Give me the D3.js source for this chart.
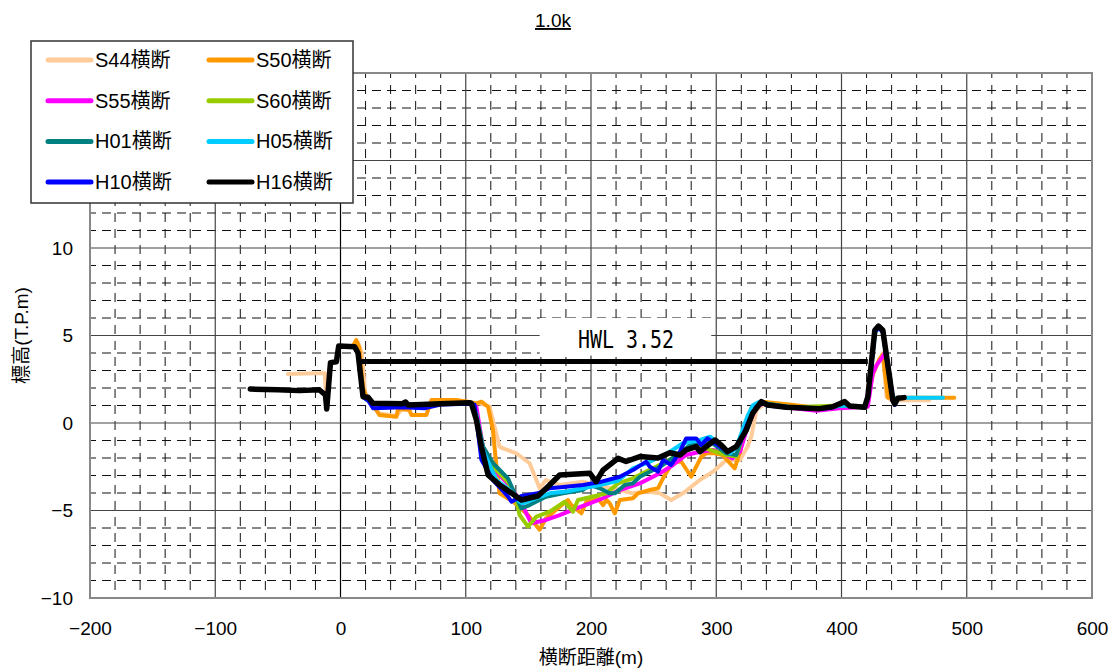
<!DOCTYPE html>
<html>
<head>
<meta charset="utf-8">
<script src="https://cdn.jsdelivr.net/npm/d3@7"></script>
<style>
  body { margin: 0; background: #fff; }
  text { font-family: "Liberation Sans", "Noto Sans CJK JP", sans-serif; fill: #000; }
</style>
</head>
<body>
<div id="chart"></div>
<script>
// cross-section profiles, [distance (m), elevation (T.P.m)]
let s44 = [[-42,2.8],[-12.6,2.85],[-11.8,1.9],[-8,3.45],[-3.3,3.5],[-1.4,4.4],[11,4.4],[14,4.6],[17,4.0],[20,1.5],[25,1.0],[31,0.55],[44.6,0.4],[50,0.9],[80,1.1],[104,1.12],[111,1.12],[119,0.93],[127,-1.35],[129.7,-1.45],[140.4,-1.73],[151,-2.3],[159,-3.73],[164,-3.26],[175,-3.54],[193.6,-3.35],[199,-3.45],[223,-3.83],[233.5,-4.02],[244,-3.92],[255,-4.02],[264,-4.4],[273.4,-4.02],[286.8,-3.26],[297.4,-2.78],[308,-2.11],[319,-2.11],[325,-1.35],[328,-0.78],[332,0.74],[337,1.0],[341,1.1],[360,1.0],[383,0.85],[400,0.9],[420,0.9],[425,2.8],[430,3.6],[433,4.0],[436,1.5],[440,1.3],[470,1.3]];
let s50 = [[-1.4,4.4],[10,4.4],[12.6,4.74],[15,4.3],[18,2.0],[22,1.3],[28.6,0.74],[31,0.46],[44.6,0.36],[46,0.8],[55,0.74],[56.6,0.46],[68.6,0.46],[72.6,1.31],[92.5,1.31],[103,1.2],[108.5,1.12],[112.5,1.22],[117.8,0.93],[121.7,-0.4],[124.5,-2.5],[127,-4.02],[138,-4.5],[149.7,-5.26],[159,-6.1],[164,-5.45],[175,-4.78],[181.6,-4.4],[184.3,-4.69],[192.3,-5.16],[196.3,-4.5],[205.6,-4.3],[209.6,-4.69],[212.3,-4.4],[215,-4.59],[219,-5.16],[223,-4.4],[233.5,-4.3],[237.5,-4.02],[247,-3.83],[253.5,-3.73],[257.5,-3.16],[265.5,-2.21],[272,-2.2],[280,-3.07],[288,-1.93],[292,-1.73],[298.7,-1.73],[305,-1.83],[314.7,-2.59],[319,-1.64],[324,-0.02],[328,0.84],[337,1.22],[360,1.05],[383,0.85],[400,0.95],[420,0.95],[425,2.8],[430,3.6],[433,3.9],[437,1.45],[490,1.45]];
let s55 = [[0,4.35],[11,4.35],[14,4.0],[18,1.5],[25,1.1],[50,1.05],[80,1.1],[104,1.1],[108.5,0.93],[113.8,-1.4],[122,-2.6],[134,-3.5],[143,-4.4],[148.4,-5.16],[152.4,-5.73],[164,-5.54],[175,-5.26],[188.3,-4.88],[199,-4.59],[209.6,-4.3],[223,-3.83],[239,-3.45],[255,-2.87],[265.5,-2.4],[276,-1.83],[287,-1.64],[297.4,-1.54],[305,-1.73],[313,-2.02],[319,-1.64],[325,-0.2],[332,0.9],[337,1.1],[360,0.85],[380,0.7],[398.5,0.84],[421,0.93],[425,2.84],[428,3.31],[432,3.7],[434.5,3.98],[437,3.5],[441,1.4]];
let s60 = [[0,4.35],[11,4.35],[14,4.0],[18,1.5],[25,1.1],[50,1.05],[80,1.1],[104,1.1],[108,0.6],[113.8,-1.4],[122,-2.5],[134,-3.4],[140.4,-4.4],[143,-5.26],[149.7,-5.92],[156.4,-5.35],[167,-5.07],[179,-4.5],[185.6,-5.07],[189.6,-4.4],[201.6,-4.2],[212.3,-4.02],[221.6,-3.45],[233.5,-3.16],[244,-2.78],[260,-2.21],[276,-1.54],[287,-1.35],[308,-1.83],[316,-1.92],[324,-0.1],[330,0.9],[337,1.15],[360,0.9],[400,1.0],[418,0.9]];
let h01 = [[0,4.35],[11,4.35],[14,4.0],[18,1.5],[25,1.1],[50,1.05],[80,1.1],[104,1.1],[108,0.6],[113.8,-1.35],[121.8,-2.3],[133.7,-3.16],[139,-4.02],[144.4,-4.88],[151,-4.69],[164,-4.21],[177.6,-4.02],[193.6,-3.83],[199,-3.54],[207,-3.73],[215,-4.02],[219,-4.02],[227,-3.54],[233.5,-3.45],[239,-3.07],[255,-2.5],[271,-1.73],[279,-1.26],[289.4,-1.16],[295,-1.07],[308,-1.73],[316,-1.83],[324,0],[330,0.9],[337,1.15],[360,0.9],[383,0.82],[400,1.0],[418,0.9]];
let h05 = [[0,4.35],[11,4.35],[14,4.0],[18,1.5],[25,1.1],[50,1.05],[80,1.1],[104,1.1],[108,0.6],[113.8,-1.54],[124.5,-3.26],[135,-3.83],[143,-4.5],[145.6,-4.59],[156.4,-4.3],[167,-4.02],[180,-3.92],[193.6,-3.73],[207,-3.55],[221.6,-3.3],[233.5,-2.59],[247,-2.21],[263,-1.64],[273.4,-1.16],[287,-0.97],[295,-0.78],[303,-1.26],[311,-1.73],[316,-1.4],[320,-0.6],[325,0.4],[329,1.0],[334,1.2],[341,1.05],[360,0.9],[383,0.82],[400,1.0],[418,0.92],[421,1.5],[427,5.2],[430,5.45],[433,5.2],[441,1.4],[445,1.45],[481,1.45]];
let h10 = [[-72,1.94],[-33,1.85],[-17,1.9],[-12,1.6],[-11,0.8],[-8,3.45],[-3.3,3.5],[-1.4,4.4],[11.3,4.36],[14,4.0],[18,1.5],[22,1.3],[26,0.84],[50,0.9],[67,0.84],[80,1.05],[103,1.1],[107,1.05],[112.5,-2.1],[121.8,-3.26],[133.7,-4.2],[136.5,-4.5],[144.4,-4.17],[157.7,-4.02],[167,-3.73],[180,-3.64],[193.6,-3.54],[207,-3.38],[223,-3.07],[233.5,-2.69],[244,-2.21],[247,-2.5],[253.5,-2.78],[257.5,-2.11],[264,-2.4],[271,-1.64],[276,-0.88],[284,-0.88],[288,-1.26],[293,-0.88],[299,-1.16],[309,-1.64],[319,-1.16],[325,-0.02],[332,0.93],[337,1.13],[341,1.0],[356,0.88],[383,0.8],[393,0.9],[402.5,1.18],[406.6,0.95],[418.5,0.88],[421,1.5],[426.6,5.2],[429.5,5.45],[433,5.2],[441,1.25],[442.5,1.03]];
let h16 = [[-72,1.94],[-50,1.9],[-33,1.85],[-17,1.9],[-12,1.6],[-11,0.8],[-8,3.45],[-3.3,3.5],[-1.4,4.4],[11.3,4.36],[14,4.0],[18,1.5],[22,1.47],[25.8,1.13],[49.6,1.1],[52,1.2],[54,1.03],[80,1.1],[103,1.16],[104.5,1.12],[108.5,0.17],[112.5,-1.35],[117.8,-2.97],[127,-3.54],[140.4,-4.2],[144.4,-4.4],[157.7,-4.17],[167,-3.54],[175,-2.97],[199,-2.87],[204,-3.35],[209.6,-2.69],[221.6,-2.02],[228,-2.2],[239,-1.92],[253.5,-2.0],[263,-1.7],[271,-1.83],[276,-1.54],[284,-1.35],[287,-1.64],[292,-1.35],[299,-0.97],[304,-1.26],[309,-1.64],[316,-1.35],[324,-0.4],[329,0.55],[336,1.22],[341,1.03],[356,0.9],[382.6,0.82],[393,0.93],[402.5,1.22],[406.6,0.97],[418.5,0.9],[421,1.5],[426.6,5.3],[429.5,5.54],[433,5.3],[441,1.3],[442.5,1.09],[445,1.41],[450,1.45]];
let hwl = [[15,3.52],[421,3.52]];

let seriesNames = ['S44横断', 'S50横断', 'S55横断', 'S60横断', 'H01横断', 'H05横断', 'H10横断', 'H16横断'];
let seriesData = [s44, s50, s55, s60, h01, h05, h10, h16];
let seriesColors = ['#FFCC99', '#FF9900', '#FF00FF', '#99CC00', '#008080', '#00CCFF', '#0000FF', '#000000'];

let xTicks = [-200, -100, 0, 100, 200, 300, 400, 500, 600];
let yTicks = [-10, -5, 0, 5, 10, 15, 20];

// layout
let width = 1116, height = 669;
let margin = {top: 73, right: 24, bottom: 71, left: 90};
let plotW = width - margin.left - margin.right,
    plotH = height - margin.top - margin.bottom;

let x = d3.scaleLinear().domain([-200, 600]).range([0, plotW]);
let y = d3.scaleLinear().domain([-10, 20]).range([plotH, 0]);

let svg = d3.select('#chart').append('svg')
  .attr('width', width)
  .attr('height', height);

let g = svg.append('g')
  .attr('transform', `translate(${margin.left}, ${margin.top})`);

// minor grid (dashed)
g.append('g')
  .selectAll('line')
  .data(d3.range(-180, 600, 20).filter(d => d % 100 !== 0))
  .enter().append('line')
    .attr('x1', d => x(d)).attr('x2', d => x(d))
    .attr('y1', 0).attr('y2', plotH)
    .attr('stroke', '#111')
    .attr('stroke-dasharray', '9,7')
    .attr('stroke-dashoffset', 4);

g.append('g')
  .selectAll('line')
  .data(d3.range(-9, 20, 1).filter(d => d % 5 !== 0))
  .enter().append('line')
    .attr('x1', 0).attr('x2', plotW)
    .attr('y1', d => y(d)).attr('y2', d => y(d))
    .attr('stroke', '#111')
    .attr('stroke-dasharray', '9,6')
    .attr('stroke-dashoffset', 3);

// major grid
g.append('g')
  .selectAll('line')
  .data(xTicks.slice(1, -1))
  .enter().append('line')
    .attr('x1', d => x(d)).attr('x2', d => x(d))
    .attr('y1', 0).attr('y2', plotH)
    .attr('stroke', d => d === 0 ? '#000' : '#444')
    .attr('stroke-width', 1.2);

g.append('g')
  .selectAll('line')
  .data(yTicks.slice(1, -1))
  .enter().append('line')
    .attr('x1', 0).attr('x2', plotW)
    .attr('y1', d => y(d)).attr('y2', d => y(d))
    .attr('stroke', '#444')
    .attr('stroke-width', 1.2);

// plot border
g.append('rect')
  .attr('width', plotW)
  .attr('height', plotH)
  .attr('fill', 'none')
  .attr('stroke', '#888')
  .attr('stroke-width', 2);

// axes labels
let xAxis = d3.axisBottom(x).tickValues(xTicks).tickSize(0).tickPadding(24)
  .tickFormat(d => d < 0 ? '\u2212' + Math.abs(d) : d);
g.append('g')
  .attr('transform', `translate(0, ${plotH})`)
  .call(xAxis)
  .call(a => a.select('.domain').remove())
  .selectAll('text')
    .style('font-size', '19px')
    .attr('font-family', null);

let yAxis = d3.axisLeft(y).tickValues(yTicks).tickSize(0).tickPadding(17)
  .tickFormat(d => d < 0 ? '\u2212' + Math.abs(d) : d);
g.append('g')
  .call(yAxis)
  .call(a => a.select('.domain').remove())
  .selectAll('text')
    .style('font-size', '19px')
    .attr('font-family', null);

// profiles
let line = d3.line()
  .x(d => x(d[0]))
  .y(d => y(d[1]));

g.selectAll('.profile')
  .data(seriesData)
  .enter().append('path')
    .attr('class', 'profile')
    .attr('d', line)
    .attr('fill', 'none')
    .attr('stroke', (d, i) => seriesColors[i])
    .attr('stroke-width', (d, i) => i === 7 ? 5.5 : 4)
    .attr('stroke-linejoin', 'round')
    .attr('stroke-linecap', 'round');

// HWL line and label
g.append('path')
  .attr('d', line(hwl))
  .attr('fill', 'none')
  .attr('stroke', '#000')
  .attr('stroke-width', 5);

g.append('rect')
  .attr('x', x(159))
  .attr('y', y(6.0))
  .attr('width', x(296) - x(159))
  .attr('height', y(3.85) - y(6.0))
  .attr('fill', '#fff');

g.append('text')
  .attr('transform', `translate(${x(228)}, ${y(4.27)}) scale(0.83, 1)`)
  .attr('text-anchor', 'middle')
  .style('font-family', '"DejaVu Sans Mono", monospace')
  .style('font-size', '24px')
  .attr('xml:space', 'preserve')
  .text('HWL 3.52');

// title and axis titles
svg.append('text')
  .attr('x', 553)
  .attr('y', 27)
  .attr('text-anchor', 'middle')
  .style('font-size', '19px')
  .style('text-decoration', 'underline')
  .text('1.0k');

svg.append('text')
  .attr('x', margin.left + plotW / 2)
  .attr('y', 664)
  .attr('text-anchor', 'middle')
  .style('font-size', '19px')
  .text('横断距離(m)');

svg.append('text')
  .attr('transform', `translate(28, ${margin.top + plotH / 2}) rotate(-90)`)
  .attr('text-anchor', 'middle')
  .style('font-size', '19px')
  .text('標高(T.P.m)');

// legend
let legend = svg.append('g')
  .attr('transform', 'translate(31, 41)');

legend.append('rect')
  .attr('width', 322)
  .attr('height', 162)
  .attr('fill', '#fff')
  .attr('stroke', '#333')
  .attr('stroke-width', 1.5);

let item = legend.selectAll('.item')
  .data(seriesNames)
  .enter().append('g')
    .attr('class', 'item')
    .attr('transform', (d, i) => `translate(${i % 2 === 0 ? 17 : 178}, ${19 + Math.floor(i / 2) * 40.7})`);

item.append('line')
  .attr('x1', 0).attr('x2', 43)
  .attr('stroke', (d, i) => seriesColors[i])
  .attr('stroke-width', 5)
  .attr('stroke-linecap', 'round');

item.append('text')
  .attr('x', 47)
  .attr('y', 7)
  .style('font-size', '20px')
  .text(d => d);
</script>
</body>
</html>
